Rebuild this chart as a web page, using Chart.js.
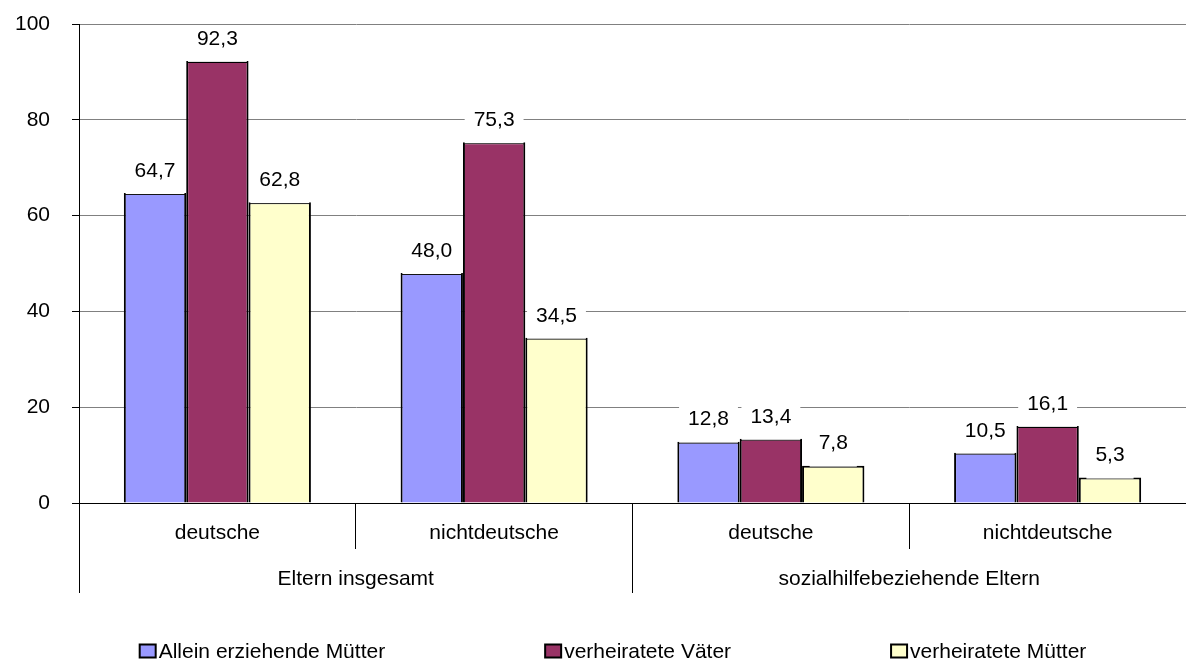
<!DOCTYPE html>
<html>
<head>
<meta charset="utf-8">
<script src="https://cdn.jsdelivr.net/npm/chart.js@4/dist/chart.umd.min.js"></script>
<style>
  html, body { margin: 0; padding: 0; background: #fff; }
  #wrap { width: 1186px; height: 663px; position: relative; }
</style>
</head>
<body>
<div id="wrap"><canvas id="c" width="1186" height="663"></canvas></div>
<script>
const categories = ['deutsche', 'nichtdeutsche', 'deutsche', 'nichtdeutsche'];
const groupLabels = ['Eltern insgesamt', 'sozialhilfebeziehende Eltern'];
const seriesNames = ['Allein erziehende Mütter', 'verheiratete Väter', 'verheiratete Mütter'];
const alleinMuetter = [64.7, 48.0, 12.8, 10.5];
const verhVaeter = [92.3, 75.3, 13.4, 16.1];
const verhMuetter = [62.8, 34.5, 7.8, 5.3];
const yTicks = [0, 20, 40, 60, 80, 100];
const colors = ['#9999FF', '#993366', '#FFFFCC'];

const FONT = "'Liberation Sans', Arial, sans-serif";

const labelPlugin = {
  id: 'valueLabels',
  afterDatasetsDraw(chart) {
    const ctx = chart.ctx;
    ctx.save();
    ctx.font = '21px ' + FONT;
    ctx.textAlign = 'center';
    ctx.textBaseline = 'middle';
    chart.data.datasets.forEach((ds, di) => {
      const meta = chart.getDatasetMeta(di);
      meta.data.forEach((bar, i) => {
        const txt = ds.data[i].toFixed(1).replace('.', ',');
        const w = ctx.measureText(txt).width + 18;
        const cy = bar.y - 23;
        ctx.fillStyle = '#fff';
        ctx.fillRect(bar.x - w / 2, cy - 12, w, bar.y - cy + 13);
        ctx.fillStyle = '#000';
        ctx.fillText(txt, bar.x, cy + 1);
      });
    });
    ctx.restore();
  }
};

const legendPlugin = {
  id: 'rowLegend',
  afterDraw(chart) {
    const ctx = chart.ctx;
    ctx.save();
    ctx.font = '21px ' + FONT;
    ctx.textBaseline = 'middle';
    ctx.textAlign = 'left';
    const box = 16, boxH = 13, gap = 3, spacing = 160;
    const items = chart.data.datasets.map(ds => ({
      text: ds.label, color: ds.backgroundColor,
      w: box + gap + ctx.measureText(ds.label).width
    }));
    const total = items.reduce((a, it) => a + it.w, 0) + spacing * (items.length - 1);
    let x = chart.width / 2 + 20 - total / 2;
    const y = 651;
    items.forEach(it => {
      ctx.fillStyle = it.color;
      ctx.fillRect(x, y - boxH / 2, box, boxH);
      ctx.strokeStyle = '#000';
      ctx.lineWidth = 2;
      ctx.strokeRect(x, y - boxH / 2, box, boxH);
      ctx.fillStyle = '#000';
      ctx.fillText(it.text, x + box + gap, y + 1);
      x += it.w + spacing;
    });
    ctx.restore();
  }
};

new Chart(document.getElementById('c'), {
  type: 'bar',
  data: {
    labels: categories,
    datasets: [
      { label: seriesNames[0], data: alleinMuetter, backgroundColor: colors[0] },
      { label: seriesNames[1], data: verhVaeter, backgroundColor: colors[1] },
      { label: seriesNames[2], data: verhMuetter, backgroundColor: colors[2] }
    ].map(d => Object.assign(d, {
      borderColor: '#000', borderWidth: 2, borderSkipped: 'bottom',
      categoryPercentage: 0.676, barPercentage: 1.0
    }))
  },
  options: {
    responsive: false,
    animation: false,
    devicePixelRatio: 1,
    layout: { padding: { left: 0, right: 0, top: 24, bottom: 70 } },
    plugins: {
      tooltip: { enabled: false },
      legend: { display: false }
    },
    scales: {
      y: {
        min: 0, max: 100,
        afterBuildTicks: s => { s.ticks = yTicks.map(v => ({ value: v })); },
        afterFit: s => { s.width = 79; s.paddingTop = 0; s.paddingBottom = 0; },
        grid: { color: '#808080', tickColor: '#000', tickLength: 7, lineWidth: 1 },
        border: { color: '#000', width: 1 },
        ticks: { color: '#000', padding: 22, font: { family: FONT, size: 21 } }
      },
      x: {
        type: 'category',
        offset: true,
        afterFit: s => { s.height = 46; },
        grid: { offset: true, drawOnChartArea: false, tickLength: 46, color: '#000' },
        border: { color: '#000', width: 1 },
        ticks: { color: '#000', padding: -28, autoSkip: false, maxRotation: 0, font: { family: FONT, size: 21 } }
      },
      x2: {
        type: 'category',
        labels: groupLabels,
        position: 'bottom',
        offset: true,
        afterFit: s => { s.height = 44; },
        grid: { offset: true, drawOnChartArea: false, tickLength: 44, color: '#000' },
        border: { display: false },
        ticks: { color: '#000', padding: -26, autoSkip: false, maxRotation: 0, font: { family: FONT, size: 21 } }
      }
    }
  },
  plugins: [labelPlugin, legendPlugin]
});
</script>
</body>
</html>
